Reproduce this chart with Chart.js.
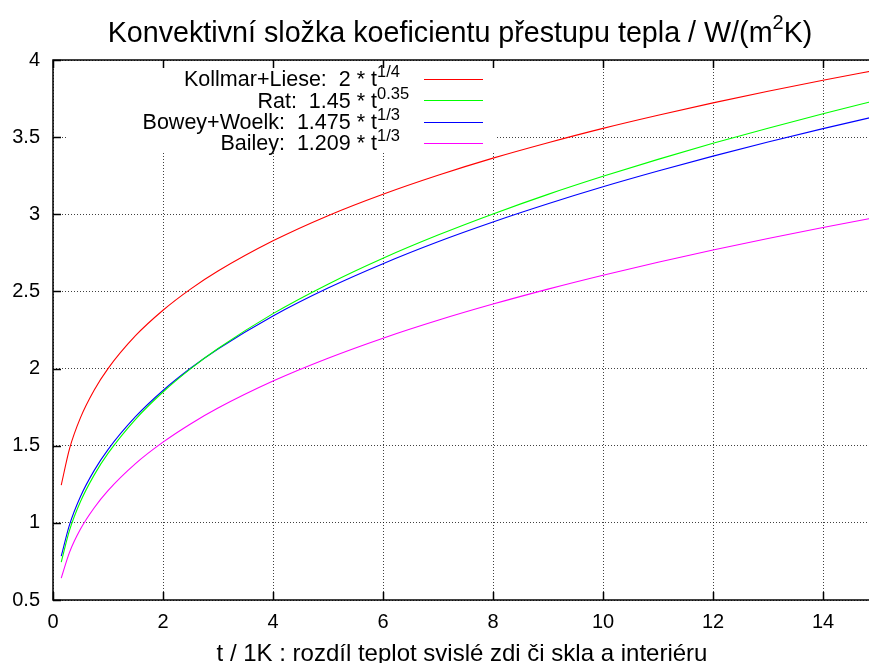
<!DOCTYPE html>
<html>
<head>
<meta charset="utf-8">
<script src="https://cdn.jsdelivr.net/npm/chart.js@4.4.1/dist/chart.umd.min.js"></script>
<style>
  html, body { margin: 0; padding: 0; background: #fff; overflow: hidden; }
  canvas { display: block; }
</style>
</head>
<body>
<canvas id="c" width="900" height="680" style="width:900px;height:680px"></canvas>
<script>
// ---- data ----
const tValues = [0.15, 0.3, 0.5, 0.75, 1, 1.5, 2, 2.5, 3, 4, 5, 6, 7, 8, 9, 10, 11, 12, 13, 14, 15];
const kollmarLiese = [1.245, 1.480, 1.682, 1.861, 2.000, 2.213, 2.378, 2.515, 2.632, 2.828, 2.991, 3.130, 3.253, 3.364, 3.464, 3.557, 3.642, 3.722, 3.798, 3.869, 3.936];
const rat          = [0.746, 0.951, 1.138, 1.311, 1.450, 1.671, 1.848, 1.998, 2.130, 2.356, 2.547, 2.715, 2.865, 3.002, 3.129, 3.246, 3.356, 3.460, 3.558, 3.652, 3.741];
const boweyWoelk   = [0.784, 0.987, 1.171, 1.340, 1.475, 1.688, 1.858, 2.002, 2.127, 2.341, 2.522, 2.680, 2.822, 2.950, 3.068, 3.178, 3.280, 3.377, 3.468, 3.555, 3.638];
const bailey       = [0.642, 0.809, 0.960, 1.098, 1.209, 1.384, 1.523, 1.641, 1.744, 1.919, 2.067, 2.197, 2.313, 2.418, 2.515, 2.605, 2.689, 2.768, 2.843, 2.914, 2.982];

const seriesNames = ['Kollmar+Liese:  2 * t', 'Rat:  1.45 * t', 'Bowey+Woelk:  1.475 * t', 'Bailey:  1.209 * t'];
const seriesExponents = ['1/4', '0.35', '1/3', '1/3'];
const seriesColors = ['#ff0000', '#00ff00', '#0000ff', '#ff00ff'];

const xTicks = [0, 2, 4, 6, 8, 10, 12, 14];
const yTicks = [0.5, 1, 1.5, 2, 2.5, 3, 3.5, 4];
const xTickLabels = ['0', '2', '4', '6', '8', '10', '12', '14'];
const yTickLabels = ['0.5', '1', '1.5', '2', '2.5', '3', '3.5', '4'];

const titleMain = 'Konvektivní složka koeficientu přestupu tepla / W/(m';
const titleSup = '2';
const titleEnd = 'K)';
const xTitle = 't / 1K : rozdíl teplot svislé zdi či skla a interiéru';

const FONT = '"Liberation Sans", Arial, Helvetica, sans-serif';

const seriesValues = [kollmarLiese, rat, boweyWoelk, bailey];
const datasets = seriesValues.map((vals, i) => ({
  label: seriesNames[i] + seriesExponents[i],
  data: tValues.map((t, j) => ({ x: t, y: vals[j] })),
  borderColor: seriesColors[i],
  backgroundColor: seriesColors[i],
  borderWidth: 1.1,
  pointRadius: 0,
  fill: false,
  cubicInterpolationMode: 'monotone'
}));

const keyBoxPlugin = {
  id: 'keyBox',
  beforeDatasetsDraw(chart) {
    const ctx = chart.ctx;
    ctx.save();
    ctx.fillStyle = '#ffffff';
    ctx.fillRect(66, 61, 429, 91);
    ctx.restore();
  }
};

const framePlugin = {
  id: 'frame',
  afterDatasetsDraw(chart) {
    const ctx = chart.ctx;
    const a = chart.chartArea;
    const xs = chart.scales.x, ys = chart.scales.y;
    ctx.save();
    ctx.strokeStyle = '#000';
    ctx.lineWidth = 1.5;
    ctx.beginPath();
    ctx.rect(a.left, a.top, a.right - a.left, a.bottom - a.top);
    ctx.stroke();
    const tl = 8;
    ctx.beginPath();
    xTicks.forEach(v => {
      const px = Math.round(xs.getPixelForValue(v)) + 0.5;
      ctx.moveTo(px, a.bottom); ctx.lineTo(px, a.bottom - tl);
      ctx.moveTo(px, a.top); ctx.lineTo(px, a.top + tl);
    });
    yTicks.forEach(v => {
      const py = Math.round(ys.getPixelForValue(v)) + 0.5;
      ctx.moveTo(a.left, py); ctx.lineTo(a.left + tl, py);
      ctx.moveTo(a.right, py); ctx.lineTo(a.right - tl, py);
    });
    ctx.stroke();
    ctx.restore();
  },
  afterDraw(chart) {
    const ctx = chart.ctx;
    ctx.save();
    ctx.fillStyle = '#000';
    // title
    ctx.textBaseline = 'alphabetic';
    ctx.textAlign = 'left';
    const tf = '28.7px ' + FONT, tsf = '20px ' + FONT;
    ctx.font = tf;
    const w1 = ctx.measureText(titleMain).width;
    const w3 = ctx.measureText(titleEnd).width;
    ctx.font = tsf;
    const w2 = ctx.measureText(titleSup).width;
    let x0 = 460 - (w1 + w2 + w3) / 2;
    const tb = 42;
    ctx.font = tf; ctx.fillText(titleMain, x0, tb);
    ctx.font = tsf; ctx.fillText(titleSup, x0 + w1, tb - 13);
    ctx.font = tf; ctx.fillText(titleEnd, x0 + w1 + w2, tb);
    // x title
    ctx.font = '24px ' + FONT;
    ctx.textAlign = 'center';
    ctx.fillText(xTitle, 462, 661);
    // key
    const rowY = [78.7, 100, 121.5, 142.5];
    seriesNames.forEach((name, i) => {
      const y = rowY[i];
      ctx.fillStyle = '#000';
      ctx.textAlign = 'right';
      ctx.font = '21.5px ' + FONT;
      ctx.fillText(name, 377, y + 7.5);
      ctx.textAlign = 'left';
      ctx.font = '16.5px ' + FONT;
      ctx.fillText(seriesExponents[i], 377, y - 1.5);
      ctx.strokeStyle = seriesColors[i];
      ctx.lineWidth = 1;
      ctx.beginPath();
      ctx.moveTo(424, Math.round(y) + 0.5);
      ctx.lineTo(483, Math.round(y) + 0.5);
      ctx.stroke();
    });
    ctx.restore();
  }
};

new Chart(document.getElementById('c'), {
  type: 'line',
  data: { datasets },
  options: {
    responsive: false,
    animation: false,
    devicePixelRatio: 1,
    layout: { padding: { left: 0, top: 60, right: 22, bottom: 0 } },
    plugins: { legend: { display: false }, title: { display: false }, tooltip: { enabled: false } },
    scales: {
      x: {
        type: 'linear',
        min: 0, max: 15,
        afterFit(s) { s.height = 80; },
        afterBuildTicks(s) { s.ticks = xTicks.map(v => ({ value: v })); },
        ticks: {
          autoSkip: false,
          maxRotation: 0,
          padding: 10,
          color: '#000',
          font: { family: FONT, size: 20 },
          callback: (v) => xTickLabels[xTicks.indexOf(v)]
        },
        grid: { color: 'rgba(0,0,0,0.75)', lineWidth: 1, drawTicks: false },
        border: { display: false, dash: [1, 2] }
      },
      y: {
        type: 'linear',
        min: 0.5, max: 4,
        afterFit(s) { s.width = 53; },
        afterBuildTicks(s) { s.ticks = yTicks.map(v => ({ value: v })); },
        ticks: {
          autoSkip: false,
          padding: 13,
          color: '#000',
          font: { family: FONT, size: 20 },
          callback: (v) => yTickLabels[yTicks.indexOf(v)]
        },
        grid: { color: 'rgba(0,0,0,0.75)', lineWidth: 1, drawTicks: false },
        border: { display: false, dash: [1, 2] }
      }
    }
  },
  plugins: [keyBoxPlugin, framePlugin]
});
</script>
</body>
</html>
